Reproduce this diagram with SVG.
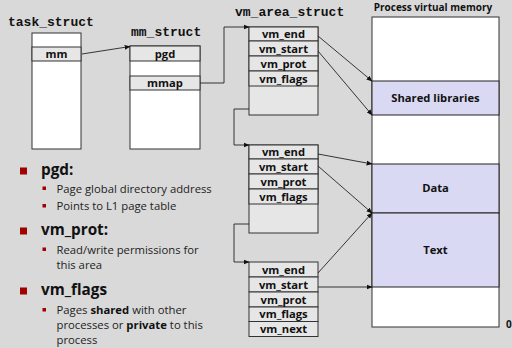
<svg xmlns="http://www.w3.org/2000/svg" width="512" height="348" viewBox="0 0 512 348">
<defs>
<style>
.bg{fill:#d9d9d9}
.w{fill:#ffffff;stroke:#333;stroke-width:1}
.g{fill:#e6e6e6;stroke:#333;stroke-width:1}
.lav{fill:#d9d9f3;stroke:#222;stroke-width:1}
.mono{font-family:"Liberation Mono",monospace;font-weight:bold;font-size:13px;fill:#111}
.lbl{font-family:"Open Sans",Lato,sans-serif;font-weight:bold;font-size:11.2px;fill:#111;text-anchor:middle}
.h{font-family:"Open Sans",Lato,sans-serif;font-weight:bold;font-size:15.3px;fill:#111}
.t{font-family:"Open Sans",Lato,sans-serif;font-size:11.3px;fill:#222}
.tb{font-weight:bold;fill:#111}
.c{fill:none;stroke:#222;stroke-width:0.9}
.b1{fill:#a00000}
</style>
<marker id="ah" viewBox="0 0 10 10" refX="9" refY="5" markerWidth="6" markerHeight="6" orient="auto" markerUnits="userSpaceOnUse">
<path d="M0,1 L10,5 L0,9 z" fill="#111"/>
</marker>
</defs>
<rect class="bg" x="0" y="0" width="512" height="348"/>

<g id="task_struct">
<text class="mono" x="8" y="26">task_struct</text>
<rect class="w" x="32" y="33" width="49" height="116"/>
<rect class="g" x="32" y="47" width="49" height="14"/>
<text class="lbl" x="56.5" y="58">mm</text>
</g>

<g id="mm_struct">
<text class="mono" x="131" y="36">mm_struct</text>
<rect class="w" x="130" y="46" width="70" height="103"/>
<rect class="g" x="130" y="46" width="70" height="15"/>
<text class="lbl" x="165" y="57.5">pgd</text>
<rect class="g" x="130" y="76" width="70" height="14"/>
<text class="lbl" x="165" y="87">mmap</text>
</g>

<g id="vm_area_1">
<text class="mono" x="235" y="16">vm_area_struct</text>
<rect class="g" x="249" y="27" width="69" height="88"/>
<rect class="g" x="249" y="27" width="69" height="14"/>
<rect class="g" x="249" y="41" width="69" height="15"/>
<rect class="g" x="249" y="56" width="69" height="15"/>
<rect class="g" x="249" y="71" width="69" height="15"/>
<text class="lbl" x="283.5" y="38">vm_end</text>
<text class="lbl" x="283.5" y="52.5">vm_start</text>
<text class="lbl" x="283.5" y="67.5">vm_prot</text>
<text class="lbl" x="283.5" y="82.5">vm_flags</text>
</g>

<g id="vm_area_2">
<rect class="g" x="249" y="145" width="69" height="88"/>
<rect class="g" x="249" y="145" width="69" height="14"/>
<rect class="g" x="249" y="159" width="69" height="15"/>
<rect class="g" x="249" y="174" width="69" height="15"/>
<rect class="g" x="249" y="189" width="69" height="15"/>
<text class="lbl" x="283.5" y="156">vm_end</text>
<text class="lbl" x="283.5" y="170.5">vm_start</text>
<text class="lbl" x="283.5" y="185.5">vm_prot</text>
<text class="lbl" x="283.5" y="200.5">vm_flags</text>
</g>

<g id="vm_area_3">
<rect class="g" x="249" y="262" width="69" height="15"/>
<rect class="g" x="249" y="277" width="69" height="15"/>
<rect class="g" x="249" y="292" width="69" height="15"/>
<rect class="g" x="249" y="307" width="69" height="14.5"/>
<rect class="g" x="249" y="321.5" width="69" height="15"/>
<text class="lbl" x="283.5" y="273.5">vm_end</text>
<text class="lbl" x="283.5" y="288.5">vm_start</text>
<text class="lbl" x="283.5" y="303.5">vm_prot</text>
<text class="lbl" x="283.5" y="318">vm_flags</text>
<text class="lbl" x="283.5" y="332.5">vm_next</text>
</g>

<g id="process_vm">
<text x="433" y="11" style="font-family:'Open Sans',Lato,sans-serif;font-weight:bold;font-size:10px;fill:#111;text-anchor:middle">Process virtual memory</text>
<rect class="w" x="372" y="17" width="127" height="310"/>
<rect class="lav" x="372" y="81" width="127" height="34"/>
<rect class="lav" x="372" y="164" width="127" height="49"/>
<rect class="lav" x="372" y="213" width="127" height="74"/>
<text class="lbl" x="435.5" y="101.5">Shared libraries</text>
<text class="lbl" x="435.5" y="192">Data</text>
<text class="lbl" x="435.5" y="253.5">Text</text>
<text x="506" y="328" style="font-family:'Open Sans',sans-serif;font-weight:bold;font-size:10px;fill:#111">0</text>
</g>

<g id="connectors">
<line class="c" x1="82" y1="54" x2="130" y2="46.5" marker-end="url(#ah)"/>
<polyline class="c" points="200,83 224,83 224,27 249,27" marker-end="url(#ah)"/>
<polyline class="c" points="249,109 234,109 234,145 249,145" marker-end="url(#ah)"/>
<polyline class="c" points="249,224 234,224 234,262 249,262" marker-end="url(#ah)"/>
<line class="c" x1="318" y1="36" x2="372" y2="81" marker-end="url(#ah)"/>
<line class="c" x1="318" y1="51" x2="372" y2="115" marker-end="url(#ah)"/>
<line class="c" x1="318" y1="154" x2="372" y2="164" marker-end="url(#ah)"/>
<line class="c" x1="318" y1="166" x2="372" y2="213" marker-end="url(#ah)"/>
<line class="c" x1="318" y1="273" x2="372" y2="213" marker-end="url(#ah)"/>
<line class="c" x1="318" y1="287" x2="372" y2="287" marker-end="url(#ah)"/>
</g>

<g id="notes">
<rect class="b1" x="20" y="167.5" width="7" height="7"/>
<text class="h" x="41" y="175">pgd:</text>
<rect class="b1" x="42.5" y="186.5" width="3.5" height="3.5"/>
<text class="t" x="56.5" y="192.5">Page global directory address</text>
<rect class="b1" x="42.5" y="204" width="3.5" height="3.5"/>
<text class="t" x="56.5" y="210">Points to L1 page table</text>
<rect class="b1" x="20" y="227.5" width="7" height="7"/>
<text class="h" x="41" y="235">vm_prot:</text>
<rect class="b1" x="42.5" y="247.5" width="3.5" height="3.5"/>
<text class="t" x="56.5" y="253.5">Read/write permissions for</text>
<text class="t" x="56.5" y="268.5">this area</text>
<rect class="b1" x="20" y="287.5" width="7" height="7"/>
<text class="h" x="41" y="294.5">vm_flags</text>
<rect class="b1" x="42.5" y="308" width="3.5" height="3.5"/>
<text class="t" x="56.5" y="314">Pages <tspan class="tb">shared</tspan> with other</text>
<text class="t" x="56.5" y="329">processes or <tspan class="tb">private</tspan> to this</text>
<text class="t" x="56.5" y="343.5">process</text>
</g>
</svg>
